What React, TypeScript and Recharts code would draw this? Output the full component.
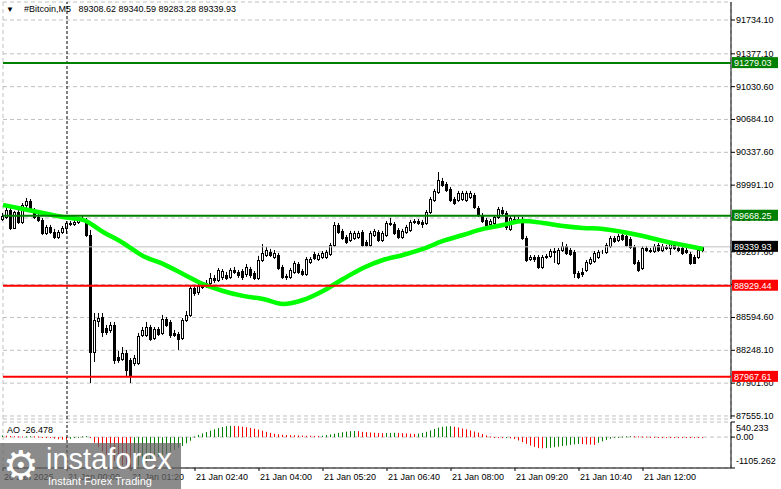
import React from "react";
import { ComposedChart, Bar, Line, XAxis, YAxis, CartesianGrid, ReferenceLine } from "recharts";

const FONT = "'Liberation Sans', Arial, sans-serif";

// M5 bars from 20 Jan 22:40 to 21 Jan 13:15 (index = bar number)
const opens = [
  89634, 89655, 89729, 89539, 89708, 89602, 89782, 89824, 89729, 89655, 89624, 89486,
  89550, 89497, 89444, 89497, 89539, 89592, 89581, 89602, 89634, 89624, 89465, 88231,
  88558, 88600, 88484, 88463, 88516, 88178, 88157, 88220, 88146, 88115, 88115, 88410,
  88410, 88494, 88378, 88473, 88431, 88579, 88547, 88431, 88421, 88378, 88568, 88621,
  88906, 88864, 88917, 88938, 88959, 89012, 88990, 89022, 89043, 89022, 89096, 89075,
  89085, 89054, 89106, 89064, 89012, 89201, 89254, 89286, 89233, 89254, 89128, 89033,
  89022, 89075, 89159, 89085, 89054, 89180, 89265, 89212, 89233, 89233, 89265, 89360,
  89571, 89508, 89444, 89413, 89434, 89444, 89497, 89391, 89360, 89465, 89497, 89413,
  89465, 89592, 89581, 89518, 89444, 89497, 89518, 89602, 89613, 89602, 89592, 89708,
  89835, 89919, 90035, 90004, 89951, 89845, 89835, 89845, 89835, 89866, 89887, 89750,
  89676, 89624, 89581, 89592, 89655, 89729, 89697, 89529, 89624, 89634, 89634, 89434,
  89212, 89233, 89233, 89128, 89233, 89244, 89296, 89170, 89307, 89349, 89307, 89286,
  89064, 89075, 89096, 89170, 89191, 89233, 89286, 89286, 89349, 89434, 89413, 89465,
  89455, 89423, 89339, 89180, 89117, 89328, 89307, 89296, 89360, 89307, 89339, 89328,
  89360, 89328, 89328, 89307, 89265, 89233, 89233, 89308.62,
];
const highs = [
  89697, 89761, 89771, 89719, 89750, 89803, 89856, 89845, 89750, 89687, 89645, 89571,
  89571, 89529, 89518, 89560, 89613, 89613, 89624, 89655, 89666, 89645, 89518, 88642,
  88642, 88642, 88516, 88547, 88547, 88241, 88283, 88252, 88167, 88199, 88431, 88494,
  88547, 88516, 88494, 88494, 88621, 88600, 88568, 88463, 88442, 88589, 88663, 88938,
  88938, 88959, 88959, 88990, 89064, 89043, 89117, 89106, 89075, 89117, 89128, 89096,
  89106, 89159, 89128, 89085, 89244, 89370, 89339, 89318, 89307, 89275, 89149, 89054,
  89117, 89191, 89180, 89106, 89233, 89233, 89286, 89275, 89296, 89307, 89381, 89602,
  89592, 89529, 89465, 89508, 89508, 89508, 89518, 89413, 89508, 89529, 89518, 89508,
  89613, 89645, 89602, 89539, 89529, 89571, 89624, 89634, 89634, 89624, 89729, 89866,
  89951, 90130, 90067, 90025, 89972, 89866, 89930, 89930, 89930, 89930, 89909, 89771,
  89697, 89645, 89634, 89676, 89761, 89761, 89719, 89666, 89676, 89655, 89655, 89455,
  89254, 89254, 89254, 89254, 89265, 89318, 89328, 89328, 89391, 89370, 89328, 89307,
  89085, 89117, 89201, 89233, 89296, 89307, 89307, 89381, 89455, 89455, 89476, 89486,
  89476, 89444, 89360, 89201, 89349, 89349, 89328, 89370, 89381, 89370, 89360, 89391,
  89381, 89349, 89349, 89328, 89286, 89254, 89328, 89340.59,
];
const lows = [
  89613, 89634, 89518, 89529, 89581, 89581, 89750, 89708, 89634, 89602, 89465, 89465,
  89476, 89423, 89423, 89476, 89476, 89560, 89560, 89581, 89602, 89444, 87903, 88125,
  88494, 88389, 88410, 88431, 88104, 88115, 88136, 87977, 87903, 88083, 88093, 88389,
  88389, 88347, 88357, 88399, 88410, 88494, 88378, 88389, 88252, 88357, 88547, 88600,
  88822, 88832, 88895, 88906, 88938, 88959, 88969, 88990, 88990, 89001, 89054, 89012,
  88990, 89022, 89012, 88990, 88990, 89180, 89233, 89233, 89212, 89096, 89001, 88990,
  89001, 89054, 89054, 89033, 89033, 89159, 89201, 89191, 89212, 89212, 89244, 89339,
  89476, 89413, 89370, 89391, 89413, 89423, 89339, 89339, 89339, 89444, 89391, 89391,
  89444, 89560, 89465, 89423, 89423, 89476, 89497, 89581, 89571, 89539, 89571, 89687,
  89814, 89898, 89972, 89919, 89814, 89782, 89814, 89824, 89814, 89845, 89740, 89655,
  89592, 89539, 89560, 89571, 89634, 89676, 89518, 89508, 89602, 89602, 89413, 89180,
  89191, 89180, 89106, 89106, 89212, 89223, 89170, 89149, 89286, 89254, 89244, 89012,
  89001, 89022, 89075, 89149, 89170, 89212, 89265, 89265, 89328, 89381, 89391, 89402,
  89339, 89318, 89149, 89075, 89096, 89286, 89275, 89275, 89286, 89286, 89307, 89254,
  89307, 89286, 89254, 89265, 89149, 89159, 89212, 89283.28,
];
const closes = [
  89665, 89729, 89539, 89708, 89602, 89782, 89824, 89729, 89655, 89624, 89486, 89550,
  89497, 89444, 89497, 89539, 89592, 89581, 89602, 89634, 89624, 89465, 88231, 88568,
  88589, 88442, 88442, 88516, 88146, 88146, 88220, 88041, 87988, 88167, 88399, 88463,
  88494, 88368, 88473, 88421, 88579, 88516, 88410, 88410, 88368, 88568, 88621, 88906,
  88853, 88927, 88927, 88959, 89012, 88990, 89096, 89085, 89012, 89096, 89075, 89043,
  89022, 89128, 89043, 89012, 89201, 89275, 89307, 89254, 89275, 89117, 89022, 89022,
  89096, 89170, 89075, 89054, 89212, 89212, 89223, 89254, 89275, 89286, 89360, 89571,
  89497, 89434, 89391, 89486, 89486, 89486, 89360, 89360, 89486, 89508, 89413, 89486,
  89592, 89581, 89486, 89444, 89508, 89550, 89602, 89613, 89592, 89581, 89708, 89845,
  89930, 90046, 89993, 89940, 89835, 89803, 89909, 89909, 89909, 89909, 89761, 89676,
  89613, 89571, 89613, 89655, 89740, 89697, 89550, 89645, 89634, 89624, 89434, 89201,
  89233, 89212, 89128, 89233, 89244, 89296, 89286, 89307, 89349, 89275, 89265, 89064,
  89022, 89054, 89180, 89212, 89275, 89286, 89290, 89360, 89434, 89402, 89455, 89423,
  89360, 89339, 89170, 89096, 89328, 89307, 89296, 89349, 89307, 89349, 89328, 89370,
  89328, 89307, 89275, 89286, 89170, 89170, 89307, 89339.93,
];

// moving average read every 5 bars
const maBars = [0, 5, 10, 15, 20, 25, 30, 35, 40, 45, 50, 55, 60, 65, 70, 75, 80, 85,
  90, 95, 100, 105, 110, 115, 120, 125, 130, 135, 140, 145, 150, 155, 160, 165, 170, 175];
const maValues = [89782, 89740, 89697, 89655, 89624, 89497, 89381, 89244, 89160, 89054,
  88948, 88874, 88822, 88790, 88737, 88779, 88874, 89000, 89117, 89201, 89254, 89318,
  89402, 89465, 89529, 89571, 89613, 89592, 89560, 89539, 89529, 89497, 89455, 89402,
  89360, 89318];

// Awesome Oscillator
const aoValues = [
  60, 50, 40, 30, 25, 20, 25, 30, 28, 20, 5, -10, -30, -55, -75, -90, -97, -60, -20, 10,
  30, 40, -20, -200, -360, -510, -640, -750, -850, -940, -1010, -1065, -1105, -1085, -1040,
  -980, -915, -850, -785, -720, -655, -590, -525, -455, -385, -315, -220, -130, 20, 80,
  130, 180, 230, 280, 320, 360, 390, 405, 400, 390, 375, 355, 330, 300, 265, 230, 190,
  150, 120, 100, 85, 75, 70, 65, 60, 55, 50, 48, 45, 42, 50, 70, 95, 120, 150, 175, 195,
  210, 220, 210, 190, 175, 165, 155, 145, 140, 145, 150, 155, 150, 140, 130, 120, 115,
  125, 150, 190, 240, 290, 340, 370, 385, 390, 370, 345, 310, 280, 240, 200, 160, 110,
  60, 20, -20, -30, -40, -35, -45, -70, -120, -180, -240, -300, -350, -390, -400, -395,
  -380, -360, -340, -320, -300, -280, -260, -240, -250, -260, -270, -280, -200, -150,
  -100, -60, -20, 10, 20, 30, 35, 30, 25, 20, 15, 12, 10, 5, 0, -5, -10, -12, -15, -18,
  -20, -22, -24, -25, -26.478,
];

const priceTicks = [91734.1, 91377.1, 91030.6, 90684.1, 90337.6, 89991.1, 89644.6,
  89287.6, 88941.1, 88594.6, 88248.1, 87901.6, 87555.1];
const gridBars = [0, 8, 16, 24, 32, 40, 48, 56, 64, 72, 80, 88, 96, 104, 112, 120, 128,
  136, 144, 152, 160, 168, 176];
const timeTicks = [0, 16, 32, 48, 64, 80, 96, 112, 128, 144, 160];
const timeLabels = ["20 Jan 2026", "21 Jan 00:00", "21 Jan 01:20", "21 Jan 02:40",
  "21 Jan 04:00", "21 Jan 05:20", "21 Jan 06:40", "21 Jan 08:00", "21 Jan 09:20",
  "21 Jan 10:40", "21 Jan 12:00"];
const dayStartBar = 16;

const symbol = "#Bitcoin,M5";
const lastBar = [89308.62, 89340.59, 89283.28, 89339.93];
const resistanceLevels = [91279.03, 89668.25];
const supportLevels = [88929.44, 87967.61];
const bidPrice = 89339.93;
const aoTicks = [540.233, 0, -1105.262];
const aoLast = -26.478;

const PRICE_DOMAIN = [87523, 91924];

const candleRows = opens.map((open, i) => ({
  bar: i,
  open,
  high: highs[i],
  low: lows[i],
  close: closes[i],
  ma: maBars.includes(i) ? maValues[maBars.indexOf(i)] : null,
}));
const aoRows = aoValues.map((ao, i) => ({ bar: i, ao, rising: i === 0 || ao >= aoValues[i - 1] }));

function Candle(props: any) {
  const { x, y, width, height, payload } = props;
  if (x == null || y == null || !payload) return null;
  const top = Math.min(y, y + height);
  const h = Math.abs(height);
  const { open, close, high, low } = payload;
  const toY = (p: number) => (high === low ? top : top + ((high - p) / (high - low)) * h);
  const cx = Math.floor(x + width / 2) + 0.5;
  const bTop = Math.round(toY(Math.max(open, close))) + 0.5;
  const bBot = Math.round(toY(Math.min(open, close))) + 0.5;
  const bull = close >= open;
  return (
    <g>
      <line x1={cx} x2={cx} y1={top} y2={top + h} stroke="#000" strokeWidth={1} />
      <rect x={cx - 1} y={bTop} width={2} height={Math.max(bBot - bTop, 0)} fill={bull ? "#fff" : "#000"} stroke="#000" strokeWidth={1} />
    </g>
  );
}

function AoBar(props: any) {
  const { x, y, width, height, payload } = props;
  if (x == null || y == null || !payload) return null;
  const top = Math.min(y, y + height);
  const h = Math.max(Math.abs(height), 1);
  return <rect x={Math.floor(x + width / 2)} y={top} width={1} height={h} fill={payload.rising ? "#008000" : "#ff0000"} />;
}

function PriceTick(props: any) {
  const { x, y, payload } = props;
  return (
    <text x={x} y={y} dy={3} fontSize={9} fontFamily={FONT} fill="#000" textAnchor="start">
      {payload.value.toFixed(2)}
    </text>
  );
}

function AoTick(props: any) {
  const { x, y, payload } = props;
  const v = payload.value;
  const dy = v > 0 ? 8.5 : v < 0 ? -4 : 2.5;
  return (
    <text x={x} y={y} dy={dy} fontSize={9} fontFamily={FONT} fill="#000" textAnchor="start">
      {v === 0 ? "0.00" : String(v)}
    </text>
  );
}

function TimeTick(props: any) {
  const { x, y, payload } = props;
  const label = timeLabels[timeTicks.indexOf(payload.value)];
  return (
    <text x={x + 1} y={y} dy={8} fontSize={9} fontFamily={FONT} fill="#000" textAnchor="start">
      {label}
    </text>
  );
}

function PriceTag(props: any) {
  const { viewBox, text, fill } = props;
  if (!viewBox) return null;
  const x = viewBox.x + viewBox.width + 1;
  const y = viewBox.y;
  return (
    <g>
      <rect x={x} y={y - 6} width={46} height={11} fill={fill} />
      <text x={x + 2} y={y + 3} fill="#fff" fontSize={9} fontFamily={FONT}>{text}</text>
    </g>
  );
}

const MAIN_MARGIN = { top: 2, right: 0, bottom: 2, left: 3 };

export default function App() {
  return (
    <div style={{ position: "absolute", left: 0, top: 0, width: 781, height: 489, background: "#fff", overflow: "hidden", fontFamily: FONT }}>
      {/* price panel */}
      <div style={{ position: "absolute", left: 0, top: 0 }}>
        <ComposedChart width={781} height={421} data={candleRows} margin={MAIN_MARGIN}>
          <CartesianGrid stroke="#c0c0c0" strokeDasharray="4 3" />
          <XAxis dataKey="bar" type="number" domain={[0, 182]} ticks={gridBars} interval={0} tick={false} tickLine={false} height={0} axisLine={{ stroke: "#000" }} />
          <YAxis orientation="right" width={50} domain={PRICE_DOMAIN} ticks={priceTicks} interval={0} tick={<PriceTick />} tickSize={4} tickMargin={1} tickLine={{ stroke: "#000" }} axisLine={{ stroke: "#000" }} />
          <YAxis yAxisId="frame" orientation="left" width={0} domain={PRICE_DOMAIN} tick={false} tickLine={false} axisLine={{ stroke: "#000" }} />
          <ReferenceLine x={dayStartBar} stroke="#000" strokeDasharray="3 2" />
          <ReferenceLine y={bidPrice} stroke="#c0c0c0" />
          <Bar dataKey={(d: any) => [d.low, d.high]} barSize={3} shape={<Candle />} isAnimationActive={false} />
          <Line dataKey="ma" type="monotone" stroke="#00ff00" strokeWidth={4.5} dot={false} connectNulls isAnimationActive={false} />
        </ComposedChart>
      </div>

      {/* level lines and their price tags, on top of the price scale */}
      <div style={{ position: "absolute", left: 0, top: 0 }}>
        <ComposedChart width={781} height={421} data={candleRows} margin={MAIN_MARGIN}>
          <XAxis dataKey="bar" type="number" domain={[0, 182]} tick={false} tickLine={false} axisLine={false} height={0} />
          <YAxis orientation="right" width={50} domain={PRICE_DOMAIN} tick={false} tickLine={false} axisLine={false} />
          <Line dataKey="close" stroke="none" dot={false} activeDot={false} isAnimationActive={false} />
          <ReferenceLine y={bidPrice} stroke="none" label={<PriceTag text={bidPrice.toFixed(2)} fill="#000" />} />
          {resistanceLevels.map((p) => (
            <ReferenceLine key={p} y={p} stroke="#008000" strokeWidth={2} label={<PriceTag text={p.toFixed(2)} fill="#008000" />} />
          ))}
          {supportLevels.map((p) => (
            <ReferenceLine key={p} y={p} stroke="#ff0000" strokeWidth={2} label={<PriceTag text={p.toFixed(2)} fill="#ff0000" />} />
          ))}
        </ComposedChart>
      </div>

      {/* AO panel */}
      <div style={{ position: "absolute", left: 0, top: 420 }}>
        <ComposedChart width={781} height={69} data={aoRows} margin={{ top: 2, right: 0, bottom: 0, left: 3 }}>
          <CartesianGrid xAxisId="grid" stroke="#c0c0c0" strokeDasharray="4 3" />
          <XAxis xAxisId="grid" orientation="top" dataKey="bar" type="number" domain={[0, 182]} ticks={gridBars} interval={0} tick={false} tickLine={false} height={0} axisLine={{ stroke: "#000" }} />
          <XAxis dataKey="bar" type="number" domain={[0, 182]} ticks={timeTicks} interval={0} tick={<TimeTick />} tickSize={3} tickMargin={1} tickLine={{ stroke: "#000" }} height={21} axisLine={{ stroke: "#000" }} />
          <YAxis orientation="right" width={50} domain={[-1105.262, 540.233]} ticks={aoTicks} interval={0} tick={<AoTick />} tickSize={4} tickMargin={1} tickLine={{ stroke: "#000" }} axisLine={{ stroke: "#000" }} />
          <YAxis yAxisId="frame" orientation="left" width={0} domain={[-1105.262, 540.233]} tick={false} tickLine={false} axisLine={{ stroke: "#000" }} />
          <ReferenceLine x={dayStartBar} stroke="#000" strokeDasharray="3 2" />
          <Bar dataKey="ao" barSize={1} shape={<AoBar />} isAnimationActive={false} />
        </ComposedChart>
      </div>

      <div style={{ position: "absolute", left: 6, top: 5, fontSize: 9, lineHeight: "9px", whiteSpace: "pre", color: "#000" }}>
        <span style={{ fontSize: 8 }}>▼</span>
        {"    " + symbol + "   " + lastBar.map((v) => v.toFixed(2)).join(" ")}
      </div>
      <div style={{ position: "absolute", left: 7, top: 426, fontSize: 9, lineHeight: "9px", color: "#000" }}>
        {"AO " + aoLast.toFixed(3)}
      </div>

      {/* watermark */}
      <div style={{ position: "absolute", left: 0, top: 443, width: 181, height: 46, background: "rgba(100,100,100,0.75)", color: "#fff" }}>
        <div style={{ position: "absolute", left: 3, top: 0, fontSize: 40, lineHeight: "44px", fontFamily: "'DejaVu Sans'" }}>⚙</div>
        <div style={{ position: "absolute", left: 46, top: 2, fontSize: 29, lineHeight: "29px" }}>instaforex</div>
        <div style={{ position: "absolute", left: 48, top: 33, fontSize: 11, lineHeight: "11px" }}>Instant Forex Trading</div>
      </div>
    </div>
  );
}
